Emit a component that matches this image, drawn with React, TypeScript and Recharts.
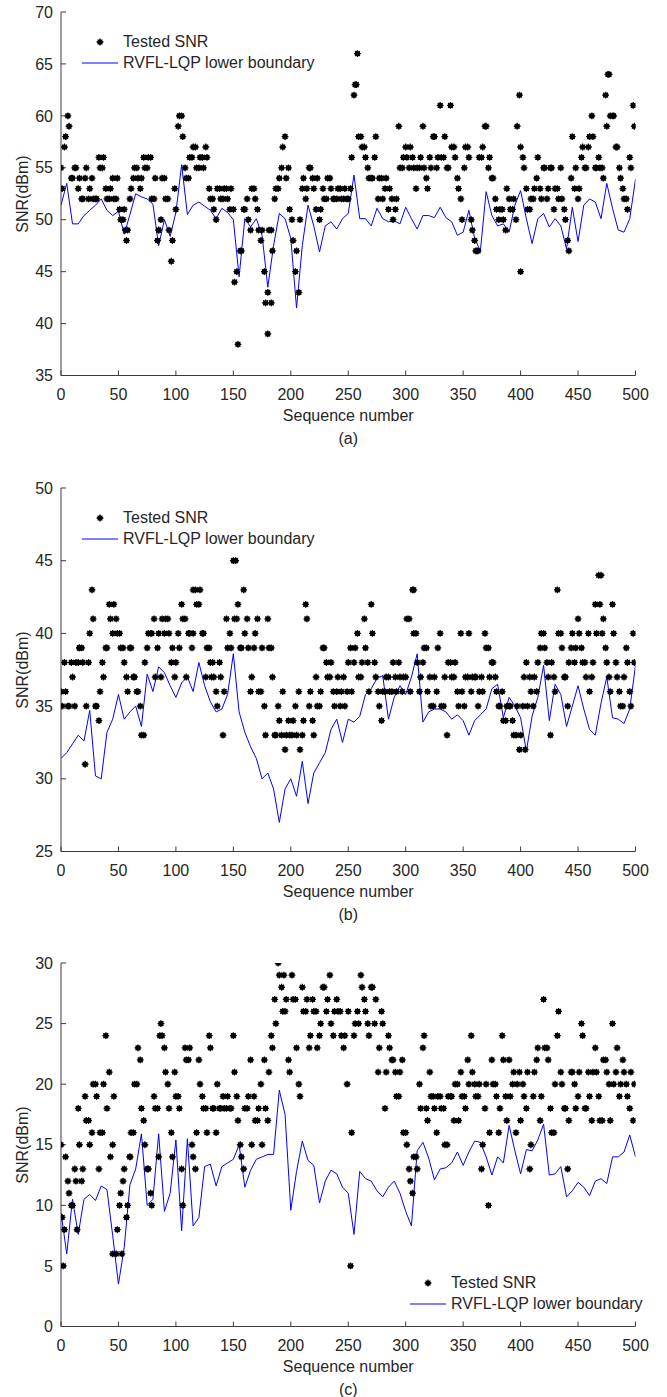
import { ComposedChart, Line, Scatter, XAxis, YAxis } from "recharts";

// sequence axis
const seqTicks = [0, 50, 100, 150, 200, 250, 300, 350, 400, 450, 500];
const SNR_STEP = 3; // tested SNR: two interleaved samples, seq 3k and 3k+1
const BOUND_STEP = 5; // boundary sampled every 5th sequence number

// ---- panel (a)
const ticksA = [35, 40, 45, 50, 55, 60, 65, 70];
const snrA = [
  55, 57, 60, 54, 55, 53, 52, 54, 52, 54,
  52, 56, 55, 53, 52, 54, 52, 51, 50, 48,
  52, 54, 55, 53, 56, 55, 56, 52, 48, 50,
  54, 52, 46, 53, 59, 60, 55, 54, 56, 57,
  55, 56, 57, 53, 52, 50, 53, 52, 53, 51,
  51, 45, 47, 51, 52, 49, 53, 51, 48, 45,
  43, 49, 52, 53, 55, 58, 55, 50, 45, 43,
  53, 52, 55, 54, 51, 50, 53, 52, 54, 52,
  52, 53, 52, 52, 53, 62, 66, 58, 57, 55,
  54, 56, 52, 54, 53, 51, 52, 51, 59, 55,
  57, 55, 56, 53, 55, 59, 54, 56, 58, 55,
  61, 56, 55, 61, 57, 54, 52, 55, 57, 50,
  48, 47, 56, 59, 55, 54, 52, 50, 51, 49,
  52, 51, 50, 62, 56, 53, 51, 52, 54, 53,
  55, 52, 55, 51, 53, 55, 51, 48, 54, 53,
  52, 56, 55, 57, 60, 55, 56, 55, 62, 64,
  60, 57, 55, 53, 52, 56, 61,
];
const snrA2 = [
  53, 58, 59, 54, 55, 54, 52, 55, 53, 52,
  52, 55, 56, 52, 53, 52, 54, 50, 51, 49,
  53, 55, 54, 54, 55, 56, 52, 54, 49, 54,
  52, 49, 48, 51, 60, 58, 54, 56, 57, 55,
  56, 55, 56, 52, 51, 53, 52, 53, 52, 53,
  44, 38, 47, 51, 50, 53, 52, 49, 49, 42,
  49, 47, 53, 54, 57, 54, 51, 48, 47, 50,
  54, 53, 55, 53, 54, 51, 52, 54, 53, 52,
  53, 52, 53, 52, 56, 63, 58, 57, 56, 54,
  54, 58, 54, 52, 54, 53, 50, 52, 55, 56,
  56, 57, 55, 55, 56, 55, 53, 55, 58, 56,
  56, 58, 55, 57, 56, 53, 50, 57, 56, 49,
  47, 56, 57, 59, 56, 54, 51, 51, 50, 53,
  51, 52, 59, 57, 55, 51, 52, 53, 56, 52,
  55, 53, 55, 53, 52, 52, 50, 47, 58, 55,
  53, 57, 55, 58, 58, 55, 55, 54, 59, 60,
  60, 57, 54, 52, 51, 55, 59,
];
const extraA: [number, number][] = [
  [180, 39], [183, 42], [257, 63], [362, 47], [400, 45], [476, 64], [56, 49], [85, 49],
];
const boundA = [
  51.4, 53.5, 49.6, 49.6, 50.4, 50.9, 51.4, 52.0, 50.9, 50.4,
  50.8, 48.6, 50.5, 52.5, 52.2, 52.0, 51.5, 47.5, 50.0, 48.4,
  50.7, 55.3, 50.5, 51.4, 51.7, 51.3, 50.9, 50.1, 51.1, 50.7,
  50.0, 44.5, 50.1, 49.3, 50.1, 48.5, 43.5, 47.5, 50.6, 50.1,
  48.2, 41.5, 47.5, 51.4, 49.4, 46.9, 49.4, 49.8, 49.1, 50.1,
  50.6, 54.3, 50.1, 50.1, 49.4, 51.1, 50.1, 49.8, 49.9, 49.6,
  51.2, 50.1, 49.1, 50.4, 50.4, 50.2, 51.2, 50.2, 49.8, 48.5,
  48.8, 50.9, 48.2, 47.0, 52.7, 50.4, 49.4, 49.6, 48.8, 51.4,
  52.8, 50.1, 47.7, 50.1, 50.6, 49.3, 50.1, 49.4, 47.2, 51.2,
  47.9, 51.4, 52.0, 51.7, 50.1, 53.5, 51.1, 49.0, 48.8, 50.1, 53.9,
];

// ---- panel (b)
const ticksB = [25, 30, 35, 40, 45, 50];
const snrB = [
  36, 38, 35, 38, 35, 38, 39, 31, 38, 43,
  35, 34, 38, 39, 42, 40, 41, 40, 39, 37,
  39, 37, 36, 35, 33, 39, 40, 41, 39, 37,
  40, 41, 38, 37, 40, 42, 41, 40, 39, 43,
  42, 40, 37, 39, 38, 36, 38, 33, 41, 40,
  45, 41, 39, 43, 41, 36, 39, 41, 36, 35,
  41, 39, 33, 35, 33, 32, 34, 33, 35, 36,
  33, 42, 35, 34, 37, 35, 39, 38, 37, 36,
  36, 35, 37, 36, 39, 38, 40, 37, 41, 38,
  42, 38, 36, 34, 36, 37, 36, 37, 38, 36,
  37, 41, 43, 40, 36, 38, 39, 37, 35, 36,
  40, 35, 33, 38, 37, 36, 40, 35, 37, 36,
  37, 35, 37, 40, 39, 38, 37, 35, 36, 34,
  35, 34, 33, 32, 35, 38, 37, 35, 36, 39,
  40, 38, 33, 37, 43, 40, 37, 35, 39, 38,
  41, 39, 38, 40, 37, 42, 44, 40, 39, 37,
  42, 38, 36, 35, 39, 36, 40,
];
const snrB2 = [
  35, 36, 35, 37, 38, 39, 38, 35, 40, 41,
  35, 36, 37, 39, 41, 42, 40, 39, 38, 36,
  39, 37, 36, 33, 38, 40, 40, 37, 40, 41,
  41, 40, 39, 38, 39, 41, 37, 40, 40, 42,
  43, 40, 39, 38, 37, 35, 37, 36, 39, 39,
  41, 42, 39, 40, 39, 37, 40, 36, 39, 33,
  39, 37, 33, 34, 36, 33, 33, 34, 33, 32,
  34, 41, 36, 33, 35, 36, 39, 37, 38, 35,
  37, 36, 35, 38, 36, 39, 37, 38, 39, 36,
  40, 37, 35, 36, 37, 36, 38, 36, 37, 37,
  41, 36, 40, 38, 37, 39, 36, 35, 37, 39,
  35, 37, 38, 37, 38, 35, 36, 37, 40, 37,
  37, 36, 36, 39, 37, 38, 36, 35, 34, 35,
  35, 33, 35, 33, 37, 35, 36, 37, 38, 40,
  39, 37, 38, 36, 40, 39, 37, 38, 40, 39,
  40, 38, 37, 36, 38, 40, 42, 41, 38, 36,
  40, 37, 35, 37, 38, 35, 38,
];
const extraB: [number, number][] = [
  [152, 45], [404, 32], [470, 44], [16, 39], [115, 43], [307, 43], [131, 37],
];
const boundB = [
  31.4, 31.8, 32.4, 33.0, 32.6, 34.7, 30.2, 30.0, 33.2, 34.1,
  35.8, 34.1, 34.6, 35.0, 33.6, 37.2, 36.0, 37.7, 37.3, 36.4,
  35.6, 36.6, 37.0, 36.0, 38.0, 36.4, 35.3, 34.6, 34.8, 35.8,
  38.6, 34.6, 33.2, 32.2, 31.4, 30.0, 30.4, 29.3, 27.0, 29.3,
  30.0, 28.8, 31.2, 28.3, 30.4, 31.1, 31.8, 33.4, 34.1, 32.5,
  34.1, 33.9, 34.3, 35.8, 36.2, 36.9, 37.1, 34.1, 35.6, 36.4,
  35.8, 37.0, 38.6, 33.9, 34.6, 34.8, 34.8, 34.6, 34.1, 34.4,
  34.0, 33.0, 34.0, 34.4, 34.8, 36.2, 36.5, 34.2, 35.6, 35.0,
  34.2, 31.9, 34.3, 35.6, 37.8, 34.0, 36.5, 35.8, 33.6, 35.0,
  36.4, 34.8, 33.4, 33.0, 35.2, 37.0, 34.2, 34.1, 33.8, 34.8, 37.8,
];

// ---- panel (c)
const ticksC = [0, 5, 10, 15, 20, 25, 30];
const snrC = [
  15, 8, 12, 10, 13, 18, 12, 19, 17, 16,
  20, 13, 16, 24, 21, 15, 6, 10, 12, 9,
  14, 16, 20, 22, 17, 13, 11, 19, 18, 25,
  23, 20, 16, 21, 19, 13, 23, 22, 15, 13,
  22, 19, 18, 24, 18, 16, 18, 19, 18, 18,
  24, 19, 15, 13, 18, 22, 19, 17, 20, 22,
  17, 24, 27, 30, 28, 26, 22, 29, 27, 20,
  28, 26, 23, 27, 26, 24, 28, 26, 29, 24,
  27, 26, 23, 20, 5, 24, 26, 29, 27, 25,
  28, 25, 21, 26, 18, 24, 22, 21, 19, 22,
  16, 13, 11, 14, 20, 23, 18, 21, 19, 16,
  19, 18, 15, 19, 17, 20, 21, 19, 22, 24,
  20, 19, 13, 18, 10, 22, 20, 16, 24, 19,
  22, 20, 16, 21, 20, 18, 13, 19, 22, 17,
  27, 23, 18, 16, 24, 21, 18, 13, 21, 20,
  19, 25, 18, 21, 17, 23, 19, 17, 22, 20,
  25, 21, 19, 22, 20, 18, 17,
];
const snrC2 = [
  9, 14, 11, 10, 12, 15, 13, 17, 15, 20,
  19, 16, 20, 18, 14, 19, 8, 11, 13, 10,
  16, 20, 23, 18, 15, 13, 10, 18, 14, 24,
  21, 18, 14, 19, 18, 10, 22, 23, 14, 16,
  20, 18, 16, 23, 18, 20, 18, 18, 19, 18,
  21, 17, 14, 18, 19, 15, 17, 18, 15, 18,
  21, 23, 25, 29, 26, 27, 21, 27, 23, 19,
  26, 27, 24, 26, 23, 25, 28, 27, 25, 26,
  26, 24, 24, 26, 16, 25, 25, 28, 26, 24,
  28, 27, 23, 25, 21, 23, 22, 19, 21, 16,
  15, 12, 14, 13, 18, 24, 17, 19, 18, 19,
  18, 15, 19, 19, 20, 17, 19, 18, 20, 21,
  19, 20, 15, 20, 16, 20, 19, 18, 22, 17,
  19, 21, 20, 17, 19, 21, 15, 21, 23, 19,
  23, 22, 16, 20, 26, 20, 18, 17, 21, 18,
  21, 24, 18, 19, 21, 21, 17, 22, 21, 17,
  20, 23, 20, 21, 19, 21, 20,
];
const extraC: [number, number][] = [
  [2, 5], [53, 6], [45, 6], [194, 29], [14, 8], [60, 14], [86, 24],
];
const boundC = [
  9.4, 6.0, 10.5, 7.6, 10.5, 10.9, 10.4, 11.6, 11.3, 7.5,
  3.5, 6.5, 11.7, 13.0, 15.9, 10.0, 10.5, 15.9, 9.5, 11.0,
  15.4, 7.9, 15.5, 8.3, 9.0, 13.2, 13.4, 11.6, 13.2, 13.5,
  13.8, 15.0, 11.5, 12.9, 13.8, 14.0, 14.2, 14.2, 19.5, 17.5,
  9.6, 12.8, 15.3, 13.7, 13.3, 10.2, 12.0, 12.9, 12.6, 11.5,
  11.0, 7.6, 12.8, 12.2, 12.0, 11.2, 10.7, 11.5, 12.0, 11.0,
  9.5, 8.3, 14.5, 15.2, 13.9, 12.1, 13.0, 13.1, 13.5, 14.4,
  13.3, 14.4, 15.3, 15.2, 14.0, 12.5, 14.0, 13.5, 16.6, 14.5,
  12.6, 14.6, 14.5, 15.4, 16.7, 12.5, 12.6, 13.2, 10.7, 11.2,
  11.9, 11.5, 10.8, 12.0, 12.2, 11.8, 14.0, 14.0, 14.4, 15.8, 14.0,
];

const FONT = '"Liberation Sans", Arial, Helvetica, sans-serif';
const INK = "#262626";
const AXIS = "#3c3c3c";
const BLUE = "#0000ff";

const toPoints = (values: number[], step: number, offset = 0) =>
  values.map((y, i) => ({ x: i * step + offset, y }));

// MATLAB-ish filled star marker
function StarDot(props: any) {
  const { cx, cy } = props;
  if (cx == null || cy == null) return null;
  const r = 3.4;
  const d = 2.4;
  return (
    <g>
      <path
        d={`M${cx - r},${cy}H${cx + r}M${cx},${cy - r}V${cy + r}M${cx - d},${cy - d}L${cx + d},${cy + d}M${cx - d},${cy + d}L${cx + d},${cy - d}`}
        stroke="#000"
        strokeWidth={1.3}
      />
      <circle cx={cx} cy={cy} r={2.6} fill="#000" />
    </g>
  );
}

function LegendBox({ x, y }: { x: number; y: number }) {
  // x = left of the line sample, y = centre of first row
  return (
    <div style={{ position: "absolute", left: x, top: y - 11, width: 240, height: 44 }}>
      <svg width={40} height={44} style={{ position: "absolute", left: 0, top: 0 }}>
        <StarDot cx={18} cy={11} />
        <line x1={0} x2={36} y1={32} y2={32} stroke={BLUE} strokeWidth={1} />
      </svg>
      <div style={{ position: "absolute", left: 41, top: 1, fontSize: 16, lineHeight: "20px", color: INK, whiteSpace: "nowrap" }}>
        Tested SNR
      </div>
      <div style={{ position: "absolute", left: 41, top: 22, fontSize: 16, lineHeight: "20px", color: INK, whiteSpace: "nowrap" }}>
        RVFL-LQP lower boundary
      </div>
    </div>
  );
}

type PanelProps = {
  top: number;
  snr: number[];
  snr2: number[];
  extra: [number, number][];
  bound: number[];
  yTicks: number[];
  caption: string;
  legend: { x: number; y: number };
};

const W = 667;
const H = 476;
const PLOT_TOP = 12;
const PLOT_H = 363.5;

function Panel({ top, snr, snr2, extra, bound, yTicks, caption, legend }: PanelProps) {
  const dots = [
    ...toPoints(snr, SNR_STEP),
    ...toPoints(snr2, SNR_STEP, 1),
    ...extra.map(([x, y]) => ({ x, y })),
  ];
  const line = toPoints(bound, BOUND_STEP);
  const yDomain = [yTicks[0], yTicks[yTicks.length - 1]];
  const plotBottom = PLOT_TOP + PLOT_H;
  return (
    <div style={{ position: "absolute", left: 0, top, width: W, height: H }}>
      <ComposedChart width={W} height={H} margin={{ top: PLOT_TOP, right: 31.5, bottom: H - plotBottom - 30, left: 0 }}>
        <XAxis
          xAxisId="b"
          dataKey="x"
          type="number"
          domain={[0, 500]}
          allowDataOverflow
          ticks={seqTicks}
          interval={0}
          height={30}
          tickSize={-5}
          tickMargin={18}
          stroke={AXIS}
          tick={{ fill: INK, fontSize: 16 }}
        />
        <XAxis
          xAxisId="t"
          orientation="top"
          type="number"
          domain={[0, 500]}
          allowDataOverflow
          ticks={seqTicks}
          interval={0}
          height={0}
          tickSize={-5}
          tick={false}
          stroke={AXIS}
        />
        <YAxis
          yAxisId="l"
          dataKey="y"
          type="number"
          domain={yDomain}
          allowDataOverflow
          ticks={yTicks}
          interval={0}
          width={61}
          tickSize={-5}
          tickMargin={13}
          stroke={AXIS}
          tick={{ fill: INK, fontSize: 16 }}
        />
        <YAxis
          yAxisId="r"
          orientation="right"
          type="number"
          domain={yDomain}
          allowDataOverflow
          ticks={yTicks}
          interval={0}
          width={0}
          tickSize={-5}
          tick={false}
          stroke={AXIS}
        />
        <Scatter xAxisId="b" yAxisId="l" data={dots} dataKey="y" shape={StarDot} isAnimationActive={false} />
        <Line
          xAxisId="b"
          yAxisId="l"
          data={line}
          dataKey="y"
          type="linear"
          stroke={BLUE}
          strokeWidth={1}
          dot={false}
          activeDot={false}
          isAnimationActive={false}
        />
      </ComposedChart>
      <div
        style={{
          position: "absolute",
          left: 23 - 60,
          top: PLOT_TOP + PLOT_H / 2 - 10,
          width: 120,
          height: 20,
          lineHeight: "20px",
          textAlign: "center",
          fontSize: 16,
          color: INK,
          transform: "rotate(-90deg)",
        }}
      >
        SNR(dBm)
      </div>
      <div style={{ position: "absolute", left: 61, width: 574.5, top: plotBottom + 30, textAlign: "center", fontSize: 16, lineHeight: "20px", color: INK }}>
        Sequence number
      </div>
      <div style={{ position: "absolute", left: 61, width: 574.5, top: plotBottom + 53, textAlign: "center", fontSize: 16, lineHeight: "20px", color: INK }}>
        {caption}
      </div>
      <LegendBox x={legend.x} y={PLOT_TOP + legend.y} />
    </div>
  );
}

export default function App() {
  return (
    <div style={{ position: "absolute", left: 0, top: 0, width: W, height: 1397, background: "#fff", fontFamily: FONT }}>
      <Panel top={0} snr={snrA} snr2={snrA2} extra={extraA} bound={boundA} yTicks={ticksA} caption="(a)" legend={{ x: 82, y: 29.5 }} />
      <Panel top={476} snr={snrB} snr2={snrB2} extra={extraB} bound={boundB} yTicks={ticksB} caption="(b)" legend={{ x: 82, y: 29.5 }} />
      <Panel top={951} snr={snrC} snr2={snrC2} extra={extraC} bound={boundC} yTicks={ticksC} caption="(c)" legend={{ x: 410, y: 320 }} />
    </div>
  );
}
